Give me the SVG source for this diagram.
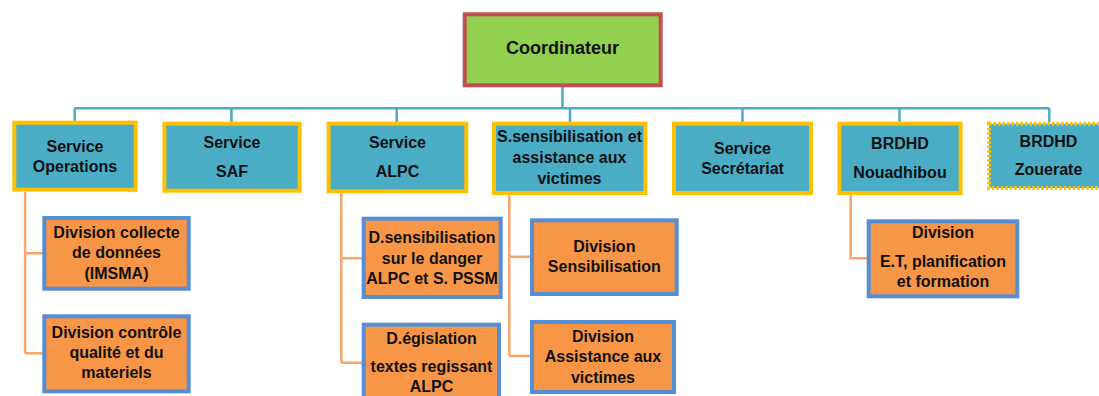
<svg xmlns="http://www.w3.org/2000/svg" width="1099" height="396" viewBox="0 0 1099 396">
<style>
.bg{fill:#ffffff}
.top{fill:#92D050;stroke:#C0504D;stroke-width:4}
.svc{fill:#4BACC6;stroke:#FFC000;stroke-width:4}
.svcd{fill:#4BACC6;stroke:#FFC000;stroke-width:4;stroke-dasharray:2.5 2}
.div{fill:#F79646;stroke:#558ED5;stroke-width:4}
.t{font-family:"Liberation Sans",Arial,sans-serif;font-weight:bold;font-size:16px;fill:#111;text-anchor:middle}
.tc{font-size:18px}
.lb{fill:none;stroke:#4BACC6;stroke-width:2.5}
.lo{fill:none;stroke:#FAA66A;stroke-width:2.5}
</style>
<rect class="bg" x="0" y="0" width="1099" height="396"/>
<g id="connectors">
<path class="lb" d="M562.5,87 V108.3 M74.7,108.3 H1049.3 M74.7,108.3 V122 M231.5,108.3 V122 M396.7,108.3 V122 M570,108.3 V122 M742.5,108.3 V122 M899.5,108.3 V122 M1049.3,108.3 V122"/>
<path class="lo" d="M25,192 V353.3 M25,253.3 H43 M25,353.3 H43"/>
<path class="lo" d="M341.3,193 V362.7 M341.3,258.3 H362 M341.3,362.7 H362"/>
<path class="lo" d="M509.3,195 V356 M509.3,256.7 H530 M509.3,356 H530"/>
<path class="lo" d="M850.7,195 V258.3 H867"/>
</g>
<g id="coordinateur">
<rect class="top" x="464.7" y="14.3" width="196" height="71"/>
<text class="t tc" x="562.5" y="54.3">Coordinateur</text>
</g>
<g id="service-operations">
<rect class="svc" x="14.3" y="122.7" width="121.4" height="67"/>
<text class="t" x="75" y="151.7">Service</text>
<text class="t" x="75" y="171.7">Operations</text>
</g>
<g id="service-saf">
<rect class="svc" x="164.4" y="123.7" width="135.2" height="67"/>
<text class="t" x="232" y="148">Service</text>
<text class="t" x="232" y="176.7">SAF</text>
</g>
<g id="service-alpc">
<rect class="svc" x="328.6" y="123.7" width="137.7" height="67.6"/>
<text class="t" x="397.5" y="148">Service</text>
<text class="t" x="397.5" y="176.7">ALPC</text>
</g>
<g id="service-sensibilisation">
<rect class="svc" x="494" y="123.7" width="151.4" height="69.3"/>
<text class="t" x="569.5" y="141.7">S.sensibilisation et</text>
<text class="t" x="569.5" y="162.7">assistance aux</text>
<text class="t" x="569.5" y="184">victimes</text>
</g>
<g id="service-secretariat">
<rect class="svc" x="674" y="123.7" width="137" height="69.3"/>
<text class="t" x="742.5" y="154">Service</text>
<text class="t" x="742.5" y="174.3">Secrétariat</text>
</g>
<g id="brdhd-nouadhibou">
<rect class="svc" x="839.4" y="123.7" width="121.2" height="69.3"/>
<text class="t" x="900" y="149">BRDHD</text>
<text class="t" x="900" y="177.7">Nouadhibou</text>
</g>
<g id="brdhd-zouerate">
<rect class="svcd" x="989" y="123.7" width="119" height="64.3"/>
<text class="t" x="1048.5" y="146.7">BRDHD</text>
<text class="t" x="1048.5" y="175">Zouerate</text>
</g>
<g id="div-collecte">
<rect class="div" x="44.3" y="218" width="144.4" height="70.7"/>
<text class="t" x="116.5" y="237.7">Division collecte</text>
<text class="t" x="116.5" y="258.3">de données</text>
<text class="t" x="116.5" y="279.3">(IMSMA)</text>
</g>
<g id="div-controle">
<rect class="div" x="44.3" y="316.3" width="144.4" height="75"/>
<text class="t" x="116.5" y="337.7">Division contrôle</text>
<text class="t" x="116.5" y="357.7">qualité et du</text>
<text class="t" x="116.5" y="378.3">materiels</text>
</g>
<g id="d-sensibilisation">
<rect class="div" x="363.7" y="218.7" width="137" height="78.3"/>
<text class="t" x="432" y="243.3">D.sensibilisation</text>
<text class="t" x="432" y="264">sur le danger</text>
<text class="t" x="432" y="284.3">ALPC et S. PSSM</text>
</g>
<g id="d-egislation">
<rect class="div" x="363.7" y="324.7" width="135.3" height="80"/>
<text class="t" x="431.5" y="344">D.égislation</text>
<text class="t" x="431.5" y="371.7">textes regissant</text>
<text class="t" x="431.5" y="391.7">ALPC</text>
</g>
<g id="div-sensibilisation">
<rect class="div" x="532" y="220.3" width="144.7" height="73.7"/>
<text class="t" x="604.3" y="251.7">Division</text>
<text class="t" x="604.3" y="272">Sensibilisation</text>
</g>
<g id="div-assistance">
<rect class="div" x="532" y="322" width="142" height="70"/>
<text class="t" x="603" y="341.7">Division</text>
<text class="t" x="603" y="361.7">Assistance aux</text>
<text class="t" x="603" y="382.7">victimes</text>
</g>
<g id="div-et">
<rect class="div" x="868.7" y="221.3" width="148.6" height="75"/>
<text class="t" x="943" y="238.3">Division</text>
<text class="t" x="943" y="266.7">E.T, planification</text>
<text class="t" x="943" y="286.7">et formation</text>
</g>
</svg>
